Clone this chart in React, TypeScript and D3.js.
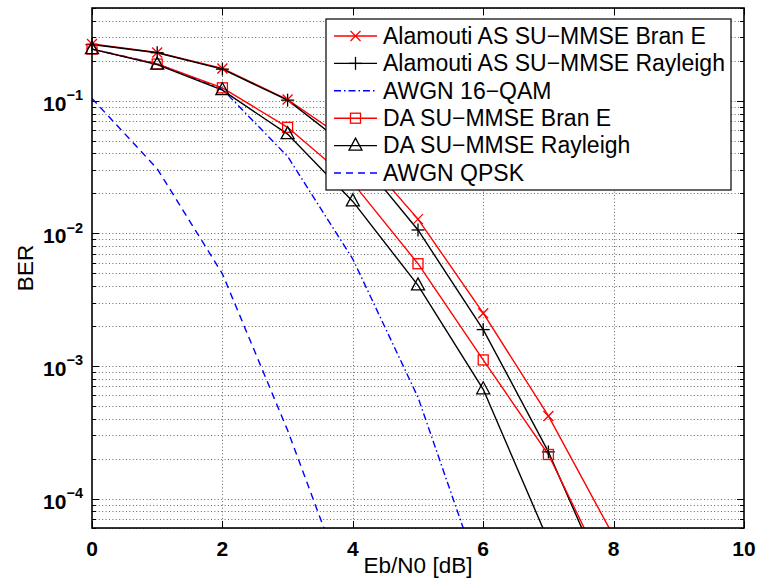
import React from "react";
import * as d3 from "d3";

// ---- data ----
const snrSim = [0, 1, 2, 3, 4, 5, 6, 7, 8];
const alamoutiBranE = [0.268, 0.231, 0.175, 0.102, 0.047, 0.0128, 0.0025, 4.2e-4, 5.2e-5];
const alamoutiRayleigh = [0.265, 0.23, 0.173, 0.101, 0.042, 0.0106, 0.00188, 2.25e-4, 1.7e-5];
const snr16qam = [0, 1, 2, 3, 4, 5, 6];
const awgn16qam = [0.245, 0.19, 0.122, 0.038, 0.0064, 5.8e-4, 2.2e-5];
const daBranE = [0.245, 0.189, 0.125, 0.063, 0.024, 0.0059, 0.00111, 2.15e-4, 2.1e-5];
const snrDaRay = [0, 1, 2, 3, 4, 5, 6, 7];
const daRayleigh = [0.245, 0.187, 0.12, 0.056, 0.0174, 0.00405, 6.67e-4, 4.8e-5];
const snrQpsk = [0, 1, 2, 3, 4];
const awgnQpsk = [0.104, 0.0307, 0.00495, 3.27e-4, 1.55e-5];

const xTicks = [0, 2, 4, 6, 8, 10];
const yMajorExp = [-4, -3, -2, -1];

type Series = {
  name: string;
  x: number[];
  y: number[];
  color: string;
  marker: string;
  dash: string;
};

const series: Series[] = [
  { name: "Alamouti AS SU\u2212MMSE Bran E", x: snrSim, y: alamoutiBranE, color: "#ff0000", marker: "x", dash: "" },
  { name: "Alamouti AS SU\u2212MMSE Rayleigh", x: snrSim, y: alamoutiRayleigh, color: "#000000", marker: "+", dash: "" },
  { name: "AWGN 16\u2212QAM", x: snr16qam, y: awgn16qam, color: "#0000ff", marker: "none", dash: "7 3 1.5 3" },
  { name: "DA SU\u2212MMSE Bran E", x: snrSim, y: daBranE, color: "#ff0000", marker: "square", dash: "" },
  { name: "DA SU\u2212MMSE Rayleigh", x: snrDaRay, y: daRayleigh, color: "#000000", marker: "triangle", dash: "" },
  { name: "AWGN QPSK", x: snrQpsk, y: awgnQpsk, color: "#0000ff", marker: "none", dash: "7 5" },
];

const L = 92, R = 744, T = 8, B = 528;
const xScale = d3.scaleLinear().domain([0, 10]).range([L, R]);
const yScale = d3.scaleLog().domain([6e-5, 0.5]).range([B, T]);

function Marker({ type, cx, cy, color }: { type: string; cx: number; cy: number; color: string }) {
  const sw = 1.3;
  if (type === "x") {
    const s = 5;
    return (
      <g stroke={color} strokeWidth={sw}>
        <line x1={cx - s} y1={cy - s} x2={cx + s} y2={cy + s} />
        <line x1={cx - s} y1={cy + s} x2={cx + s} y2={cy - s} />
      </g>
    );
  }
  if (type === "+") {
    const s = 6.5;
    return (
      <g stroke={color} strokeWidth={sw}>
        <line x1={cx - s} y1={cy} x2={cx + s} y2={cy} />
        <line x1={cx} y1={cy - s} x2={cx} y2={cy + s} />
      </g>
    );
  }
  if (type === "square") {
    const s = 5;
    return <rect x={cx - s} y={cy - s} width={2 * s} height={2 * s} fill="none" stroke={color} strokeWidth={sw} />;
  }
  if (type === "triangle") {
    const pts = `${cx},${cy - 7.5} ${cx + 6.5},${cy + 4.5} ${cx - 6.5},${cy + 4.5}`;
    return <polygon points={pts} fill="none" stroke={color} strokeWidth={sw} />;
  }
  return null;
}

export default function App() {
  const [ymin, ymax] = yScale.domain();
  const minor: number[] = [];
  for (let e = -5; e <= 0; e++) {
    for (let k = 1; k <= 9; k++) {
      const v = k * Math.pow(10, e);
      if (v >= ymin && v <= ymax) minor.push(v);
    }
  }

  const legendX = 326, legendY = 19, legendW = 405, legendH = 171;
  const rowY = (i: number) => 36 + i * 27.4;
  const gen = d3.line().curve(d3.curveLinear);

  return (
    <svg width={760} height={585} style={{ position: "absolute", left: 0, top: 0, background: "#fff" }}
      fontFamily="'Liberation Sans', Arial, Helvetica, sans-serif">
      <defs>
        <clipPath id="plotclip">
          <rect x={L} y={T} width={R - L} height={B - T} />
        </clipPath>
      </defs>
      <rect x={0} y={0} width={760} height={585} fill="#fff" />
      {/* grid */}
      <g stroke="#666" strokeWidth={1} strokeDasharray="1 2.4">
        {minor.map((v, i) => (
          <line key={"hg" + i} x1={L} x2={R} y1={Math.round(yScale(v)) + 0.5} y2={Math.round(yScale(v)) + 0.5} />
        ))}
        {xTicks.slice(1, -1).map((t) => (
          <line key={"vg" + t} x1={Math.round(xScale(t)) + 0.5} x2={Math.round(xScale(t)) + 0.5} y1={T} y2={B} />
        ))}
      </g>
      {/* ticks */}
      <g stroke="#000" strokeWidth={1}>
        {minor.map((v, i) => {
          const isMajor = Math.abs(Math.log10(v) - Math.round(Math.log10(v))) < 1e-9;
          const len = isMajor ? 7 : 4;
          const y = Math.round(yScale(v)) + 0.5;
          return (
            <g key={"yt" + i}>
              <line x1={L} x2={L + len} y1={y} y2={y} />
              <line x1={R - len} x2={R} y1={y} y2={y} />
            </g>
          );
        })}
        {xTicks.map((t) => {
          const x = Math.round(xScale(t)) + 0.5;
          return (
            <g key={"xt" + t}>
              <line x1={x} x2={x} y1={B} y2={B - 7} />
              <line x1={x} x2={x} y1={T} y2={T + 7} />
            </g>
          );
        })}
      </g>
      {/* series lines */}
      <g clipPath="url(#plotclip)">
        {series.map((s, i) => {
          const pts = s.x.map((x, j) => [xScale(x), yScale(s.y[j])] as [number, number]);
          return (
            <path key={"s" + i} d={gen(pts) || ""} fill="none" stroke={s.color} strokeWidth={1.4}
              strokeDasharray={s.dash || undefined} />
          );
        })}
      </g>
      {/* markers */}
      <g>
        {series.map((s, i) =>
          s.x.map((x, j) => {
            const v = s.y[j];
            if (v < ymin || v > ymax || s.marker === "none") return null;
            return <Marker key={"m" + i + "-" + j} type={s.marker} cx={xScale(x)} cy={yScale(v)} color={s.color} />;
          })
        )}
      </g>
      {/* axes box */}
      <rect x={L} y={T} width={R - L} height={B - T} fill="none" stroke="#000" strokeWidth={1.6} />
      {/* tick labels */}
      <g fontSize={21} fontWeight="bold" fill="#000">
        {xTicks.map((t) => (
          <text key={"xl" + t} x={xScale(t)} y={556} textAnchor="middle">{t}</text>
        ))}
        {yMajorExp.map((e) => (
          <text key={"yl" + e} x={83} y={yScale(Math.pow(10, e)) + 10} textAnchor="end">
            10
            <tspan fontSize={14.5} dy={-10.5}>{"\u2212" + Math.abs(e)}</tspan>
          </text>
        ))}
      </g>
      {/* axis labels */}
      <text x={(L + R) / 2} y={573} textAnchor="middle" fontSize={22.5}>Eb/N0 [dB]</text>
      <text transform={`translate(33,${(T + B) / 2}) rotate(-90)`} textAnchor="middle" fontSize={22.5}>BER</text>
      {/* legend */}
      <rect x={legendX} y={legendY} width={legendW} height={legendH} fill="#fff" stroke="#000" strokeWidth={1.2} />
      {series.map((s, i) => {
        const y = rowY(i);
        return (
          <g key={"lg" + i}>
            <line x1={334} x2={377} y1={y} y2={y} stroke={s.color} strokeWidth={1.4} strokeDasharray={s.dash || undefined} />
            <Marker type={s.marker} cx={355.5} cy={y} color={s.color} />
            <text x={383} y={y + 7.8} fontSize={23} fill="#000">{s.name}</text>
          </g>
        );
      })}
    </svg>
  );
}
